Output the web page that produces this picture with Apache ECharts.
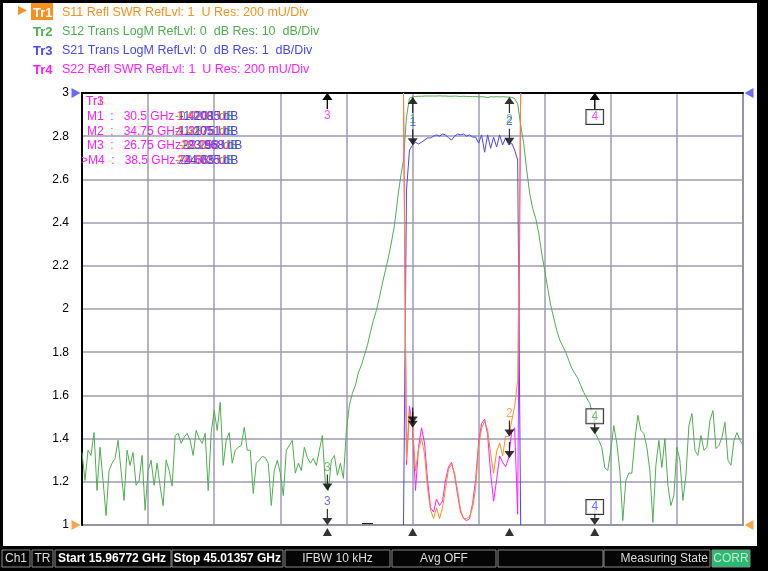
<!DOCTYPE html>
<html>
<head>
<meta charset="utf-8">
<script src="https://cdn.jsdelivr.net/npm/echarts@6/dist/echarts.min.js"></script>
<style>
  html, body { margin: 0; padding: 0; background: #fff; }
  #chart { width: 768px; height: 571px; }
</style>
</head>
<body>
<div id="chart"></div>
<script>
// sweep
const START = 15.96772, STOP = 45.01357, POINTS = 221;

// trace header
const TRACE_TAGS = ['Tr1', 'Tr2', 'Tr3', 'Tr4'];
const TRACE_INFO = [
  'S11 Refl SWR RefLvl: 1  U Res: 200 mU/Div',
  'S12 Trans LogM RefLvl: 0  dB Res: 10  dB/Div',
  'S21 Trans LogM RefLvl: 0  dB Res: 1  dB/Div',
  'S22 Refl SWR RefLvl: 1  U Res: 200 mU/Div'
];
const COLORS = ['#f7901e', '#4fae4f', '#4646ff', '#ff1cff'];

// S12, dB, whole sweep
const S12_DB = [
  -83.2, -89.7, -82.7, -83.9, -78.6, -92, -82, -89.7, -97.8, -87.4,
  -85.7, -84.6, -80.4, -87.4, -94.3, -82.7, -86.2, -83.2, -90.8, -89.7,
  -83.9, -96.6, -87.4, -85, -90.8, -85.7, -91, -95.5, -85, -87.4,
  -91, -79.3, -78.8, -81.1, -79.7, -78.8, -80.4, -83.9, -78.1, -80,
  -81.1, -78.8, -92, -78.6, -73.5, -78.1, -71.6, -86.2, -80.4, -78.6,
  -85.7, -82.7, -82, -81.6, -77.4, -82.7, -82.7, -92.7, -85.7, -85,
  -84.1, -84.4, -85.7, -95.5, -87.4, -85, -88, -93.2, -82.7, -81.6,
  -80.4, -88, -85.7, -87.4, -82, -84.4, -85.7, -84.6, -86.2, -82.7,
  -79.3, -90.4, -92, -85, -83.9, -88.5, -85.7, -89.2, -78.1, -72.3,
  -69.5, -67.7, -64.7, -63, -60.7, -58.4, -55.4, -52.6, -50.3, -47.3,
  -44, -41, -38, -34.5, -30.6, -24.8, -19.7, -15.5, -5.5, -1.2,
  -0.9, -0.8, -0.75, -0.75, -0.7, -0.7, -0.7, -0.7, -0.7, -0.65,
  -0.7, -0.7, -0.75, -0.75, -0.7, -0.75, -0.8, -0.75, -0.8, -0.8,
  -0.85, -0.8, -0.9, -0.85, -0.9, -1.1, -0.85, -0.9, -0.85, -0.9,
  -0.85, -0.9, -0.95, -1.0, -1.3, -2.5, -7.4, -11.6, -17.8, -23.2,
  -26.7, -29, -32.4, -37.1, -41, -45.2, -49.1, -52.1, -54.9, -57.2,
  -58.6, -60, -61.9, -63.7, -64.9, -66, -67.7, -69.3, -70.7, -71.8,
  -74.6, -79, -80.4, -82, -86.7, -87.4, -82.7, -77, -81.1, -87.4,
  -99, -89.7, -88, -88, -80.4, -74.6, -78.1, -78.8, -82, -87.4,
  -99.4, -86.2, -80.4, -86.7, -80, -90.8, -95.5, -93.2, -82, -85,
  -94.3, -88.5, -77, -74.2, -82.7, -83.9, -79.3, -82.7, -82, -75.8,
  -73.5, -82.3, -81.6, -79.7, -76.2, -85, -86.2, -80.4, -78.6, -80.4,
  -81.6
];

// passband part of the other traces (first sweep point = PASS_FIRST)
const PASS_FIRST = 107;
const S21_DB = [
  -10, -2.25, -1.32, -1.21, -1.14, -1.18, -1.14, -1.09, -1.04, -1.04,
  -1.0, -0.97, -1.0, -0.95, -0.97, -1.04, -1.09, -1.0, -0.95, -0.97,
  -0.95, -1.0, -0.97, -1.02, -1.02, -1.16, -0.97, -1.37, -0.97, -1.28,
  -1.02, -1.25, -0.97, -1.2, -1.04, -1.2, -1.16, -1.32, -1.55, -10
];
const S11_SWR = [
  3, 1.30, 1.52, 1.47, 1.25, 1.35, 1.40, 1.33, 1.17, 1.07,
  1.03, 1.08, 1.03, 1.08, 1.17, 1.26, 1.28, 1.24, 1.16, 1.07,
  1.03, 1.03, 1.04, 1.08, 1.17, 1.36, 1.45, 1.48, 1.44, 1.33,
  1.24, 1.34, 1.38, 1.32, 1.41, 1.41, 1.48, 1.55, 1.67, 3
];
const S22_SWR = [
  3, 1.28, 1.55, 1.45, 1.16, 1.36, 1.45, 1.38, 1.21, 1.08,
  1.06, 1.12, 1.09, 1.11, 1.21, 1.27, 1.29, 1.23, 1.14, 1.06,
  1.03, 1.02, 1.03, 1.10, 1.21, 1.38, 1.47, 1.49, 1.42, 1.24,
  1.11, 1.21, 1.32, 1.29, 1.27, 1.31, 1.43, 1.45, 1.05, 3
];

// markers
const MARKER_NAMES = ['1', '2', '3', '4'];
const MARKER_FREQ = [30.5, 34.75, 26.75, 38.5];
const S11_MARK = [1.47, 1.41, 3, 3];
const S12_MARK = [-0.9, -0.95, -92, -79];
const S21_MARK = [-1.21, -1.2, -10, -10];
const S22_MARK = [1.45, 1.31, 3, 3];
const S11_DIR = ['down', 'down', 'up', 'up'];
const S12_DIR = ['up', 'up', 'down', 'down'];
const S21_DIR = ['down', 'down', 'down', 'down'];
const MARKER_ROWS = ['M1  :   30.5 GHz', 'M2  :   34.75 GHz', 'M3  :   26.75 GHz', '>M4  :   38.5 GHz'];
const READ_S11 = ['1.4709 U', '1.4101 U', '28.935 U', '24.672 U'];
const READ_S12 = ['-0.9231 dB', '-1.2875 dB', '-92.093 dB', '-79.385 dB'];
const READ_S21 = ['-1.2085 dB', '-1.2051 dB', '-23.968 dB', '-24.035 dB'];
const READ_S22 = ['1.4201 U', '1.3175 U', '29.258 U', '24.665 U'];

// status bar
const STATUS = [
  { x: 2, w: 28, t: 'Ch1', a: 'center' },
  { x: 32, w: 21, t: 'TR', a: 'center' },
  { x: 55, w: 116, t: 'Start 15.96772 GHz', a: 'left', b: true },
  { x: 172, w: 111, t: 'Stop 45.01357 GHz', a: 'right', b: true },
  { x: 285, w: 105, t: 'IFBW 10 kHz', a: 'center' },
  { x: 392, w: 104, t: 'Avg OFF', a: 'center' },
  { x: 498, w: 105, t: '', a: 'center' },
  { x: 604, w: 106, t: 'Measuring State', a: 'right' },
  { x: 712, w: 38, t: 'CORR', a: 'center', g: true }
];

const FREQ = [];
for (let i = 0; i < POINTS; i++) FREQ.push(START + i * (STOP - START) / (POINTS - 1));
const pairs = (first, vals) => vals.map((v, k) => [FREQ[first + k], v]);

const ARROW_DOWN = 'path://M4.4,0 L5.6,0 L5.6,9 L10,9 L5,16 L0,9 L4.4,9 Z';
const ARROW_UP = 'path://M5,0 L10,7 L5.6,7 L5.6,16 L4.4,16 L4.4,7 L0,7 Z';
const FONT = 'Liberation Sans, Arial, sans-serif';

// labels: which markers of a trace show their number
function markerSeries(yAxisIndex, vals, dirs, color, labelled) {
  return {
    type: 'scatter', yAxisIndex: yAxisIndex, clip: false, z: 6, silent: true,
    symbolSize: [10, 16],
    itemStyle: { color: '#000' },
    data: MARKER_FREQ.map((f, k) => {
      const up = dirs[k] === 'up';
      const boxed = k === 3;
      return {
        value: [f, vals[k]],
        symbol: up ? ARROW_UP : ARROW_DOWN,
        symbolOffset: up ? [0, 8] : [0, -8],
        label: {
          show: labelled[k], formatter: MARKER_NAMES[k], color: color,
          fontFamily: FONT, fontSize: 12,
          position: up ? 'bottom' : 'top',
          distance: boxed && !up ? -5 : 1,
          borderColor: boxed ? '#000' : 'transparent', borderWidth: boxed ? 1 : 0,
          backgroundColor: boxed ? '#fff' : 'transparent',
          padding: boxed ? [1, 5, 1, 5] : 0
        }
      };
    })
  };
}

function trace(yAxisIndex, data, color, z) {
  return {
    type: 'line', yAxisIndex: yAxisIndex, data: data, showSymbol: false,
    lineStyle: { color: color, width: 1 }, z: z, silent: true, animation: false
  };
}

const graphic = [];
graphic.push({ type: 'rect', shape: { x: 0, y: 0, width: 768, height: 3 }, style: { fill: '#000' } });
graphic.push({ type: 'rect', shape: { x: 0, y: 0, width: 3, height: 571 }, style: { fill: '#000' } });
graphic.push({ type: 'rect', shape: { x: 757, y: 0, width: 11, height: 571 }, style: { fill: '#000' } });
graphic.push({ type: 'rect', shape: { x: 0, y: 546, width: 768, height: 25 }, style: { fill: '#000' } });
STATUS.forEach(c => {
  graphic.push({ type: 'rect', shape: { x: c.x, y: 550, width: c.w, height: 17 },
    style: { fill: c.g ? '#25be6e' : '#050505', stroke: '#8a8a8a', lineWidth: 1 } });
  if (!c.t) return;
  const tx = c.a === 'left' ? c.x + 3 : c.a === 'right' ? c.x + c.w - 2 : c.x + c.w / 2;
  graphic.push({ type: 'text', style: { text: c.t, x: tx, y: 559, textAlign: c.a, textVerticalAlign: 'middle',
    fill: c.b ? '#fff' : '#dcdcdc', font: (c.b ? 'bold ' : '') + '12px ' + FONT } });
});

// trace header
graphic.push({ type: 'polygon', shape: { points: [[18, 6], [27, 10.5], [18, 15]] }, style: { fill: COLORS[0] } });
graphic.push({ type: 'rect', shape: { x: 31, y: 3, width: 22, height: 17 }, style: { fill: COLORS[0] } });
TRACE_TAGS.forEach((t, k) => {
  const y = 13 + k * 19;
  graphic.push({ type: 'text', style: { text: t, x: 33, y: y, textVerticalAlign: 'middle',
    fill: k === 0 ? '#fff' : COLORS[k], font: 'bold 13px ' + FONT } });
  graphic.push({ type: 'text', style: { text: TRACE_INFO[k], x: 62, y: y, textVerticalAlign: 'middle',
    fill: COLORS[k], font: '12.5px ' + FONT } });
});

// marker readout (values of all traces overlap, as on the analyzer)
graphic.push({ type: 'text', z: 10, style: { text: 'Tr1', x: 86, y: 102, textVerticalAlign: 'middle', fill: COLORS[0], font: '12px ' + FONT } });
graphic.push({ type: 'text', z: 10, style: { text: 'Tr3', x: 86, y: 102, textVerticalAlign: 'middle', fill: COLORS[3], font: '12px ' + FONT } });
MARKER_ROWS.forEach((r, k) => {
  const y = 117 + k * 14.5;
  graphic.push({ type: 'text', z: 10, style: { text: r, x: k === 3 ? 81 : 87, y: y, textVerticalAlign: 'middle', fill: COLORS[3], font: '12px ' + FONT } });
  [READ_S12, READ_S11, READ_S22, READ_S21].forEach((arr, j) => {
    const col = [COLORS[1], COLORS[0], COLORS[3], COLORS[2]][j];
    graphic.push({ type: 'text', z: 10, style: { text: arr[k], x: 175 + (k === 2 ? 4 : 0) + j * 1.5, y: y, textVerticalAlign: 'middle', fill: col, font: '12px ' + FONT } });
  });
});
graphic.push({ type: 'rect', shape: { x: 362, y: 523, width: 11, height: 1.5 }, style: { fill: '#222' } });

const chart = echarts.init(document.getElementById('chart'));
chart.setOption({
  backgroundColor: '#fff',
  animation: false,
  grid: { left: 82, right: 25, top: 93, bottom: 46, show: true, borderColor: '#55556a', borderWidth: 1.5 },
  xAxis: [
    { type: 'value', min: START, max: STOP, axisLabel: { show: false }, axisTick: { show: false },
      splitLine: { show: false }, axisLine: { show: true, lineStyle: { color: '#000', width: 2 } } },
    { type: 'value', min: 0, max: 10, interval: 1, position: 'top', axisLabel: { show: false }, axisTick: { show: false },
      axisLine: { show: false }, splitLine: { show: true, lineStyle: { color: '#9c9cb2', width: 1.5 } } }
  ],
  yAxis: [
    { type: 'value', min: 1, max: 3, interval: 0.2,
      axisLine: { show: true, lineStyle: { color: '#000', width: 2 } }, axisTick: { show: false },
      axisLabel: { color: '#000', fontSize: 12, fontFamily: FONT, margin: 13 },
      splitLine: { show: true, lineStyle: { color: '#9c9cb2', width: 1.5 } } },
    { type: 'value', min: -100, max: 0, show: false },
    { type: 'value', min: -10, max: 0, show: false }
  ],
  graphic: graphic,
  series: [
    trace(1, pairs(0, S12_DB), COLORS[1], 2),
    trace(2, pairs(PASS_FIRST, S21_DB), COLORS[2], 3),
    trace(0, pairs(PASS_FIRST, S22_SWR), COLORS[3], 3),
    trace(0, pairs(PASS_FIRST, S11_SWR), COLORS[0], 4),
    markerSeries(1, S12_MARK, S12_DIR, COLORS[1], [true, true, true, true]),
    markerSeries(2, S21_MARK, S21_DIR, COLORS[2], [true, true, true, true]),
    markerSeries(0, S11_MARK, S11_DIR, COLORS[0], [false, true, false, false]),
    markerSeries(0, S22_MARK, S11_DIR, COLORS[3], [false, false, true, true]),
    { // marker position ticks under the axis
      type: 'scatter', yAxisIndex: 0, clip: false, silent: true, z: 6,
      symbol: 'triangle', symbolSize: [9, 8], symbolOffset: [0, 7], itemStyle: { color: '#000' },
      data: MARKER_FREQ.map(f => [f, 1])
    },
    { // reference position of Tr1 (SWR 1 U)
      type: 'scatter', yAxisIndex: 0, clip: false, silent: true, z: 6, symbolSize: [9, 10],
      itemStyle: { color: COLORS[0] },
      data: [
        { value: [START, 1], symbol: 'path://M0,0 L10,5 L0,10 Z', symbolOffset: [-6, 0] },
        { value: [STOP, 1], symbol: 'path://M10,0 L0,5 L10,10 Z', symbolOffset: [6, 0] }
      ]
    },
    { // reference position of Tr3 (0 dB)
      type: 'scatter', yAxisIndex: 2, clip: false, silent: true, z: 6, symbolSize: [9, 10],
      itemStyle: { color: COLORS[2] },
      data: [
        { value: [START, 0], symbol: 'path://M0,0 L10,5 L0,10 Z', symbolOffset: [-6, 0] },
        { value: [STOP, 0], symbol: 'path://M10,0 L0,5 L10,10 Z', symbolOffset: [6, 0] }
      ]
    }
  ]
});
</script>
</body>
</html>
